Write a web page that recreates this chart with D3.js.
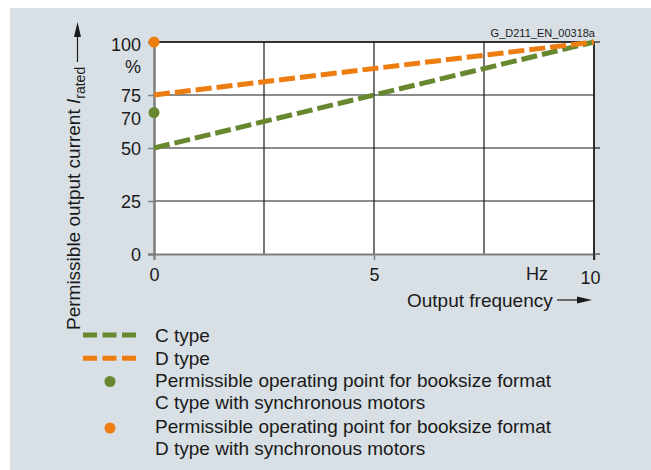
<!DOCTYPE html>
<html>
<head>
<meta charset="utf-8">
<script src="https://cdn.jsdelivr.net/npm/d3@7"></script>
<style>
  html, body { margin: 0; padding: 0; background: #ffffff; }
  svg { display: block; font-family: "Liberation Sans", Arial, sans-serif; }
</style>
</head>
<body>
<svg id="chart" width="651" height="470"></svg>
<script>
// ---- data ----
const frequency = [0, 10];            // Hz
const cTypeValues = [50, 100];        // % I_rated
const dTypeValues = [75, 100];        // % I_rated
const xGridValues = [0, 2.5, 5, 7.5, 10];
const yGridValues = [0, 25, 50, 75, 100];
const xTickValues = [0, 5, 10];
const xTickLabels = ["0", "5", "10"];
const yTickValues = [0, 25, 50, 70, 75, 100];
const yTickLabels = ["0", "25", "50", "70", "75", "100"];
const pointNames = ["C type sync", "D type sync"];
const pointX = [0, 0];
const pointY = [66.7, 100];
const legendLabels = [
  ["C type"],
  ["D type"],
  ["Permissible operating point for booksize format", "C type with synchronous motors"],
  ["Permissible operating point for booksize format", "D type with synchronous motors"]
];

const GREEN = "#67882f";
const ORANGE = "#ee7d11";
const BG = "#d8e0e5";

const svg = d3.select("#chart");

// panel background
svg.append("rect").attr("x", 10).attr("y", 8).attr("width", 641).attr("height", 462).attr("fill", BG);

const x = d3.scaleLinear().domain([0, 10]).range([154, 594]);
const y = d3.scaleLinear().domain([0, 100]).range([254, 42]);

// plot area
svg.append("rect").attr("x", x(0)).attr("y", y(100))
  .attr("width", x(10) - x(0)).attr("height", y(0) - y(100)).attr("fill", "#ffffff");

// grid
const grid = svg.append("g");
grid.selectAll("line.h").data(yGridValues.filter(d => d > 0)).join("line")
  .attr("x1", x(0)).attr("x2", x(10)).attr("y1", d => y(d)).attr("y2", d => y(d))
  .attr("stroke", "#1a1a1a").attr("stroke-width", 1.2);
grid.selectAll("line.v").data(xGridValues.filter(d => d > 0)).join("line")
  .attr("y1", y(0)).attr("y2", y(100)).attr("x1", d => x(d)).attr("x2", d => x(d))
  .attr("stroke", "#1a1a1a").attr("stroke-width", 1.2);

// right-side ticks
svg.append("g").selectAll("line").data([0, 50, 100]).join("line")
  .attr("x1", x(10)).attr("x2", x(10) + 6).attr("y1", d => y(d)).attr("y2", d => y(d))
  .attr("stroke", "#1a1a1a").attr("stroke-width", 1.2);
svg.append("line").attr("x1", x(10)).attr("x2", x(10)).attr("y1", y(0)).attr("y2", y(0) + 6)
  .attr("stroke", "#1a1a1a").attr("stroke-width", 1.2);

// y axis
const yAxis = d3.axisLeft(y).tickValues(yTickValues).tickSize(6).tickPadding(7)
  .tickFormat((d, i) => yTickLabels[i]);
const gy = svg.append("g").attr("transform", `translate(${x(0)},0)`).call(yAxis);
gy.select(".domain").attr("stroke", "#7f7f7f").attr("stroke-width", 2.5);
gy.selectAll(".tick line").attr("stroke", "#7f7f7f").attr("stroke-width", 1.5);
gy.selectAll(".tick text").attr("font-size", 18).attr("fill", "#1a1a1a")
  .attr("font-family", "Liberation Sans, Arial, sans-serif")
  .attr("dy", d => d === 70 ? "1.05em" : (d === 100 ? "0.45em" : "0.35em"));
gy.selectAll(".tick").filter(d => d === 70).select("line").remove();

// % label
svg.append("text").attr("x", 133).attr("y", 73).attr("text-anchor", "middle")
  .attr("font-size", 18).attr("fill", "#1a1a1a").text("%");

// x axis
const xAxis = d3.axisBottom(x).tickValues(xTickValues).tickSize(6).tickPadding(8)
  .tickFormat((d, i) => xTickLabels[i]);
const gx = svg.append("g").attr("transform", `translate(0,${y(0)})`).call(xAxis);
gx.select(".domain").attr("stroke", "#7f7f7f").attr("stroke-width", 2);
gx.selectAll(".tick line").attr("stroke", "#7f7f7f").attr("stroke-width", 1.5);
gx.selectAll(".tick").filter(d => d === 10).select("line").attr("stroke", "#1a1a1a");
gx.selectAll(".tick").filter(d => d === 10).select("line").remove();
gx.selectAll(".tick text").attr("font-size", 18).attr("fill", "#1a1a1a")
  .attr("font-family", "Liberation Sans, Arial, sans-serif")
  .attr("dx", d => d === 10 ? -4 : 0)
  .attr("dy", d => d === 10 ? "0.9em" : "0.71em");
// extend bottom line slightly right
svg.append("line").attr("x1", x(10)).attr("x2", x(10) + 6).attr("y1", y(0)).attr("y2", y(0))
  .attr("stroke", "#7f7f7f").attr("stroke-width", 2);

// top & right border
svg.append("line").attr("x1", x(0)).attr("x2", x(10)).attr("y1", y(100)).attr("y2", y(100))
  .attr("stroke", "#1a1a1a").attr("stroke-width", 1.5);
svg.append("line").attr("x1", x(10)).attr("x2", x(10)).attr("y1", y(100)).attr("y2", y(0) + 6)
  .attr("stroke", "#1a1a1a").attr("stroke-width", 1.5);

// Hz
svg.append("text").attr("x", 537).attr("y", 280).attr("text-anchor", "middle")
  .attr("font-size", 18).attr("fill", "#1a1a1a").text("Hz");

// x title + arrow
svg.append("text").attr("x", 407).attr("y", 306.5).attr("font-size", 19).attr("fill", "#1a1a1a")
  .text("Output frequency");
svg.append("line").attr("x1", 557).attr("x2", 580).attr("y1", 300).attr("y2", 300)
  .attr("stroke", "#1a1a1a").attr("stroke-width", 1.2);
svg.append("path").attr("d", "M592,300 L577,296.5 L577,303.5 Z").attr("fill", "#1a1a1a");

// y title + arrow
const yt = svg.append("text").attr("transform", "translate(80,330) rotate(-90)")
  .attr("font-size", 19).attr("fill", "#1a1a1a");
yt.append("tspan").text("Permissible output current ");
yt.append("tspan").attr("font-style", "italic").text("I");
yt.append("tspan").attr("font-size", 14).attr("dy", 5).text("rated");
svg.append("line").attr("x1", 77.5).attr("x2", 77.5).attr("y1", 62).attr("y2", 34)
  .attr("stroke", "#1a1a1a").attr("stroke-width", 1.2);
svg.append("path").attr("d", "M77.5,22 L74,37 L81,37 Z").attr("fill", "#1a1a1a");

// code label
svg.append("text").attr("x", 595).attr("y", 36.5).attr("text-anchor", "end")
  .attr("font-size", 11).attr("fill", "#1a1a1a").text("G_D211_EN_00318a");

// curves
const line = d3.line().x(d => x(d[0])).y(d => y(d[1]));
const series = [
  { name: "C type", values: cTypeValues, color: GREEN },
  { name: "D type", values: dTypeValues, color: ORANGE }
];
svg.append("g").selectAll("path").data(series).join("path")
  .attr("d", s => line(frequency.map((f, i) => [f, s.values[i]])))
  .attr("fill", "none").attr("stroke", s => s.color).attr("stroke-width", 5)
  .attr("stroke-dasharray", "16,5");

// points
svg.append("g").selectAll("circle").data(pointNames).join("circle")
  .attr("cx", (d, i) => x(pointX[i])).attr("cy", (d, i) => y(pointY[i]))
  .attr("r", 5.5).attr("fill", (d, i) => i === 0 ? GREEN : ORANGE);

// legend
const lg = svg.append("g");
const rowY = [335, 358.3];
series.forEach((s, i) => {
  lg.append("line").attr("x1", 83).attr("x2", 138).attr("y1", rowY[i]).attr("y2", rowY[i])
    .attr("stroke", s.color).attr("stroke-width", 5).attr("stroke-dasharray", "14,5.5");
});
lg.append("circle").attr("cx", 110).attr("cy", 381.5).attr("r", 5.5).attr("fill", GREEN);
lg.append("circle").attr("cx", 110).attr("cy", 428).attr("r", 5.5).attr("fill", ORANGE);
const baselines = [[341.7], [365], [386.7, 409.3], [432.7, 455.3]];
legendLabels.forEach((lines, i) => {
  lines.forEach((t, j) => {
    lg.append("text").attr("x", 155).attr("y", baselines[i][j]).attr("font-size", 19)
      .attr("fill", "#1a1a1a").text(t);
  });
});
</script>
</body>
</html>
